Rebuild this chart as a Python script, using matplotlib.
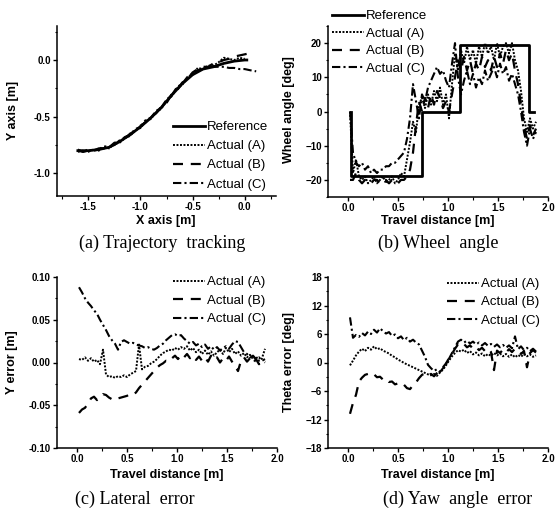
import matplotlib
matplotlib.use("Agg")
import matplotlib.pyplot as plt
from matplotlib.ticker import MultipleLocator

plt.rcParams['font.family'] = ['Liberation Sans', 'DejaVu Sans']

# ---- (a) trajectory tracking ----
ref_x = [-1.60, -1.50, -1.40, -1.30, -1.20, -1.10, -1.00, -0.90, -0.80, -0.70,
         -0.60, -0.50, -0.40, -0.30, -0.20, -0.10, 0.00, 0.02]
ref_y = [-0.80, -0.80, -0.79, -0.77, -0.72, -0.66, -0.59, -0.51, -0.42, -0.31,
         -0.21, -0.13, -0.08, -0.06, -0.03, -0.01, 0.00, 0.00]

act_x = [-1.60, -1.55, -1.50, -1.45, -1.40, -1.35, -1.30, -1.25, -1.20, -1.15,
         -1.10, -1.05, -1.00, -0.95, -0.90, -0.85, -0.80, -0.75, -0.70, -0.65,
         -0.60, -0.55, -0.50, -0.45, -0.40, -0.35, -0.30, -0.25, -0.20, -0.15,
         -0.10, -0.05, 0.00]
act_a_y = [-0.81, -0.80, -0.81, -0.79, -0.80, -0.77, -0.78, -0.74, -0.73, -0.69,
           -0.67, -0.62, -0.60, -0.54, -0.52, -0.46, -0.43, -0.36, -0.32, -0.25,
           -0.22, -0.16, -0.13, -0.07, -0.08, -0.05, -0.05, -0.02, 0.02, 0.01,
           0.00, 0.02, 0.01]
act_b_y = [-0.80, -0.81, -0.79, -0.80, -0.78, -0.78, -0.76, -0.75, -0.71, -0.70,
           -0.65, -0.63, -0.58, -0.55, -0.50, -0.47, -0.41, -0.38, -0.30, -0.27,
           -0.20, -0.17, -0.11, -0.08, -0.06, -0.06, -0.03, -0.02, 0.00, 0.01,
           0.03, 0.04, 0.05]
act_c_y = [-0.79, -0.81, -0.80, -0.80, -0.79, -0.76, -0.77, -0.73, -0.72, -0.68,
           -0.66, -0.61, -0.59, -0.53, -0.51, -0.45, -0.42, -0.35, -0.31, -0.24,
           -0.21, -0.15, -0.12, -0.09, -0.08, -0.06, -0.06, -0.06, -0.06, -0.07,
           -0.07, -0.08, -0.08]
tail_b_x = [0.00, 0.05]
tail_b_y = [0.05, 0.06]
tail_c_x = [0.00, 0.05, 0.11]
tail_c_y = [-0.08, -0.09, -0.10]

# ---- shared travel distance samples [m] ----
dist = [0.02, 0.05, 0.08, 0.11, 0.14, 0.17, 0.20, 0.23, 0.26, 0.29, 0.32, 0.35,
        0.38, 0.41, 0.44, 0.47, 0.50, 0.53, 0.56, 0.59, 0.62, 0.65, 0.68, 0.71,
        0.74, 0.77, 0.80, 0.83, 0.86, 0.89, 0.92, 0.95, 0.98, 1.01, 1.04, 1.07,
        1.10, 1.13, 1.16, 1.19, 1.22, 1.25, 1.28, 1.31, 1.34, 1.37, 1.40, 1.43,
        1.46, 1.49, 1.52, 1.55, 1.58, 1.61, 1.64, 1.67, 1.70, 1.73, 1.76, 1.79,
        1.82, 1.85, 1.88]

# ---- (b) wheel angle [deg] ----
wheel_ref_x = [0.03, 0.03, 0.74, 0.74, 1.12, 1.12, 1.81, 1.81, 1.86]
wheel_ref_y = [0.0, -19.0, -19.0, 0.0, 0.0, 19.5, 19.5, 0.0, 0.0]
wheel_a = [0, -18, -14, -19, -20, -19, -21, -20, -19, -21, -20, -19,
           -21, -20, -19, -21, -20, -18, -19, -14, -9, -3, -6, 2,
           4, 1, 5, 2, 6, 3, 7, 2, 5, -2, 8, 17,
           12, 18, 14, 19, 15, 18, 14, 19, 16, 20, 17, 19,
           15, 20, 16, 19, 20, 17, 20, 15, 12, 6, -2, -6,
           -2, -5, -3]
wheel_b = [-20, -20, -18, -20, -21, -20, -20, -21, -20, -20, -21, -20,
           -20, -21, -20, -20, -21, -20, -20, -19, -17, -12, -4, 3,
           0, 4, 1, 5, 2, 6, 4, 1, 3, 0, 5, 10,
           15, 12, 16, 12, 15, 11, 14, 12, 16, 13, 15, 12,
           16, 13, 17, 14, 18, 15, 17, 12, 8, 2, -4, -8,
           -4, -7, -5]
wheel_c = [0, -12, -15, -16, -15, -17, -16, -18, -17, -18, -17, -17,
           -16, -16, -15, -15, -14, -13, -12, -8, -2, 8, 3, -2,
           5, 3, 7, 9, 11, 13, 11, 12, 9, 7, 14, 20,
           10, 5, 9, 12, 8, 11, 7, 10, 8, 12, 9, 11,
           13, 10, 14, 11, 13, 9, 11, 8, 5, 0, -6, -10,
           -5, -8, -6]

# ---- (c) lateral error [m] ----
lat_a = [0.004, 0.003, 0.006, 0.002, 0.005, 0.001, 0.003, -0.002, 0.015, -0.014,
         -0.017, -0.016, -0.018, -0.016, -0.017, -0.015, -0.017, -0.014, -0.012, -0.010,
         0.021, -0.008, -0.005, -0.004, -0.001, 0.001, 0.004, 0.008, 0.011, 0.013,
         0.015, 0.014, 0.017, 0.015, 0.018, 0.016, 0.019, 0.014, 0.017, 0.012,
         0.015, 0.010, 0.014, 0.009, 0.013, 0.008, 0.012, 0.015, 0.010, 0.017,
         0.012, 0.016, 0.010, 0.013, 0.008, 0.011, 0.006, 0.009, 0.004, 0.007,
         0.002, 0.005, 0.016]
lat_b = [-0.059, -0.055, -0.053, -0.048, -0.042, -0.040, -0.044, -0.041, -0.037, -0.038,
         -0.041, -0.043, -0.044, -0.042, -0.041, -0.040, -0.039, -0.037, -0.038, -0.035,
         -0.030, -0.026, -0.022, -0.018, -0.014, -0.010, -0.006, -0.003, -0.001, 0.002,
         0.001, 0.005, 0.008, 0.004, 0.009, 0.006, 0.010, 0.005, 0.008, 0.003,
         0.007, 0.002, 0.006, 0.001, 0.008, 0.003, 0.006, 0.000, 0.005, 0.002,
         0.007, 0.001, -0.004, -0.010, 0.002, 0.006, 0.001, 0.005, -0.001, 0.004,
         -0.002, 0.003, 0.000]
lat_c = [0.088, 0.082, 0.075, 0.070, 0.066, 0.061, 0.057, 0.050, 0.044, 0.038,
         0.031, 0.026, 0.022, 0.015, 0.024, 0.026, 0.024, 0.022, 0.023, 0.021,
         0.020, 0.019, 0.017, 0.018, 0.016, 0.015, 0.017, 0.020, 0.022, 0.026,
         0.029, 0.032, 0.033, 0.031, 0.032, 0.028, 0.025, 0.022, 0.024, 0.020,
         0.022, 0.018, 0.021, 0.016, 0.019, 0.015, 0.018, 0.014, 0.017, 0.019,
         0.016, 0.021, 0.025, 0.024, 0.018, 0.012, 0.010, 0.006, 0.008, 0.004,
         0.006, 0.002, 0.004]

# ---- (d) yaw angle error [deg] ----
yaw_a = [-0.6, 0.4, 1.5, 2.3, 2.9, 2.4, 3.1, 2.7, 3.4, 2.8, 3.0, 2.5,
         2.2, 1.9, 1.4, 1.1, 0.6, 0.3, -0.1, -0.4, -0.7, -1.0, -1.3, -1.6,
         -1.9, -2.2, -2.5, -2.7, -2.4, -2.8, -2.1, -1.5, -0.6, 0.4, 1.3, 2.0,
         2.6, 2.3, 2.7, 2.0, 2.4, 1.7, 2.1, 1.5, 1.9, 1.3, 1.8, 1.4,
         2.0, 1.5, 1.9, 1.3, 1.8, 1.2, 1.7, 1.1, 1.6, 1.2, 1.8, 1.3,
         1.7, 1.2, 1.5]
yaw_b = [-10.8, -8.5, -6.8, -4.0, -3.2, -2.6, -2.4, -2.8, -2.5, -3.1, -3.0, -3.6,
         -3.4, -4.1, -4.0, -4.6, -4.4, -4.9, -4.7, -5.4, -5.6, -4.8, -4.2, -3.3,
         -2.6, -2.3, -2.8, -2.4, -2.9, -2.2, -1.6, -1.0, -0.2, 0.9, 1.8, 2.9,
         3.8, 3.4, 3.9, 3.2, 3.6, 2.9, 3.3, 2.6, 3.1, 2.4, 2.9, 2.2,
         -1.6, 2.5, 2.0, 2.7, 2.1, 2.8, 2.2, 2.9, 2.3, 1.8, 2.4, -1.0,
         2.0, 2.6, 2.1]
yaw_c = [9.5, 5.2, 5.8, 5.4, 6.2, 5.7, 6.5, 6.0, 6.9, 6.3, 7.2, 6.6,
         6.1, 6.4, 5.6, 5.9, 5.1, 5.5, 4.7, 5.2, 4.4, 4.8, 4.2, 3.8,
         2.5, 1.2, -0.5, -1.2, -1.8, -1.4, -2.0, -1.2, -0.3, 0.8, 2.0, 3.2,
         4.4, 4.8, 4.2, 4.6, 4.0, 4.4, 3.8, 4.2, 3.6, 4.1, 3.5, 3.9,
         3.3, 3.8, 3.2, 3.7, 3.1, 3.6, 3.0, 5.5, 2.8, 3.4, 2.6, 3.1,
         2.4, 2.9, 2.3]

labels = ["Actual (A)", "Actual (B)", "Actual (C)"]
STY_A = dict(color='k', lw=1.4, ls=(0, (1, 0.8)))
STY_B = dict(color='k', lw=1.6, ls=(0, (4.5, 3.5)))
STY_C = dict(color='k', lw=1.5, ls=(0, (4, 1.5, 1, 1.5)))
STY_REF = dict(color='k', lw=2.0, ls='-')

W, H = 555, 512
fig = plt.figure(figsize=(W / 100, H / 100), dpi=100)


def place(l, t, r, b):
    return fig.add_axes([l / W, 1 - b / H, (r - l) / W, (b - t) / H])


def style(ax, xmaj, ymaj):
    ax.spines['top'].set_visible(False)
    ax.spines['right'].set_visible(False)
    for s in ('left', 'bottom'):
        ax.spines[s].set_linewidth(1.1)
    ax.xaxis.set_major_locator(MultipleLocator(xmaj))
    ax.xaxis.set_minor_locator(MultipleLocator(xmaj / 2))
    ax.yaxis.set_major_locator(MultipleLocator(ymaj))
    ax.yaxis.set_minor_locator(MultipleLocator(ymaj / 2))
    ax.tick_params(which='major', direction='out', length=3, width=1.0, pad=1.5,
                   labelsize=7)
    ax.tick_params(which='minor', direction='out', length=1.8, width=0.8)
    for t in ax.get_xticklabels() + ax.get_yticklabels():
        t.set_fontweight('bold')


def leg(ax, x, y, spacing):
    ax.legend(loc='upper left', bbox_to_anchor=(x / W, 1 - y / H),
              bbox_transform=fig.transFigure, frameon=False, fontsize=9.5,
              borderpad=0, borderaxespad=0, handlelength=2.4,
              handletextpad=0.15, labelspacing=spacing)


def ftext(x, y, s, **kw):
    fig.text(x / W, 1 - y / H, s, ha='center', va='center', **kw)


# (a)
ax = place(57, 26, 276, 196)
ax.plot(ref_x, ref_y, label="Reference", **STY_REF)
ax.plot(act_x, act_a_y, label=labels[0], **STY_A)
ax.plot(act_x + tail_b_x, act_b_y + tail_b_y, label=labels[1], **STY_B)
ax.plot(act_x + tail_c_x, act_c_y + tail_c_y, label=labels[2], **STY_C)
ax.set_xlim(-1.8, 0.3)
ax.set_ylim(-1.2, 0.3)
style(ax, 0.5, 0.5)
ax.xaxis.set_major_formatter(plt.FuncFormatter(lambda v, p: f"{v:.1f}"))
ax.yaxis.set_major_formatter(plt.FuncFormatter(lambda v, p: f"{v:.1f}"))
leg(ax, 173, 121, 0.52)

# (b)
ax = place(328, 26, 548, 197)
ax.plot(wheel_ref_x, wheel_ref_y, label="Reference", **STY_REF)
ax.plot(dist, wheel_a, label=labels[0], **STY_A)
ax.plot(dist, wheel_b, label=labels[1], **STY_B)
ax.plot(dist, wheel_c, label=labels[2], **STY_C)
ax.set_xlim(-0.2, 2.0)
ax.set_ylim(-25, 25)
style(ax, 0.5, 10)
ax.xaxis.set_major_formatter(plt.FuncFormatter(lambda v, p: f"{v:.1f}"))
leg(ax, 332, 10, 0.4)

# (c)
ax = place(57, 277, 277, 448)
ax.plot(dist, lat_a, label=labels[0], **STY_A)
ax.plot(dist, lat_b, label=labels[1], **STY_B)
ax.plot(dist, lat_c, label=labels[2], **STY_C)
ax.set_xlim(-0.2, 2.0)
ax.set_ylim(-0.1, 0.1)
style(ax, 0.5, 0.05)
ax.xaxis.set_major_formatter(plt.FuncFormatter(lambda v, p: f"{v:.1f}"))
ax.yaxis.set_major_formatter(plt.FuncFormatter(lambda v, p: f"{v:.2f}"))
leg(ax, 173, 276, 0.48)

# (d)
ax = place(328, 277, 548, 448)
ax.plot(dist, yaw_a, label=labels[0], **STY_A)
ax.plot(dist, yaw_b, label=labels[1], **STY_B)
ax.plot(dist, yaw_c, label=labels[2], **STY_C)
ax.set_xlim(-0.2, 2.0)
ax.set_ylim(-18, 18)
style(ax, 0.5, 6)
ax.xaxis.set_major_formatter(plt.FuncFormatter(lambda v, p: f"{v:.1f}"))
leg(ax, 447, 278, 0.45)

# axis labels
lab = dict(fontsize=9, fontweight='bold')
ftext(166, 221, "X axis [m]", **lab)
ftext(438, 221, "Travel distance [m]", **lab)
ftext(167, 475, "Travel distance [m]", **lab)
ftext(438, 475, "Travel distance [m]", **lab)
ftext(13, 110, "Y axis [m]", rotation=90, **lab)
ftext(289, 110, "Wheel angle [deg]", rotation=90, **lab)
ftext(12, 362, "Y error [m]", rotation=90, **lab)
ftext(289, 362, "Theta error [deg]", rotation=90, **lab)

# captions
cap = dict(fontsize=13, family=['Liberation Serif', 'DejaVu Serif'])
ftext(162, 243, "(a) Trajectory  tracking", **cap)
ftext(438, 243, "(b) Wheel  angle", **cap)
ftext(135, 499, "(c) Lateral  error", **cap)
ftext(458, 499, "(d) Yaw  angle  error", **cap)

fig.savefig("out.png", dpi=100)
